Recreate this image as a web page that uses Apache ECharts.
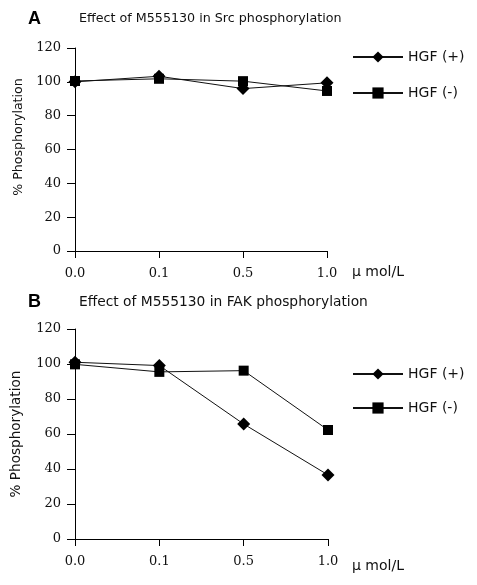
<!DOCTYPE html>
<html>
<head>
<meta charset="utf-8">
<script src="https://cdn.jsdelivr.net/npm/echarts@6/dist/echarts.min.js"></script>
<style>html,body{margin:0;padding:0;background:#fff;}#c{width:477px;height:585px;}</style>
</head>
<body>
<div id="c"></div>
<script>
var categories = ['0.0', '0.1', '0.5', '1.0'];
var srcHgfPlus = [100, 103.3, 96, 99.4];
var srcHgfMinus = [100.5, 101.8, 100.4, 94.6];
var fakHgfPlus = [101, 99.1, 65.7, 36.6];
var fakHgfMinus = [99.8, 95.5, 96.2, 62.3];
var yTicks = {min: 0, max: 120, interval: 20};

var tickFont = {fontFamily: 'DejaVu Serif', fontSize: 13, color: '#111'};
var sansFont = 'DejaVu Sans';

function xAxis(gi) {
  return {
    type: 'category', gridIndex: gi, data: categories, boundaryGap: false,
    axisLine: {lineStyle: {color: '#000', width: 1}},
    axisTick: {show: true, inside: false, length: 7, alignWithLabel: true, lineStyle: {color: '#000'}},
    axisLabel: Object.assign({margin: 16}, tickFont),
    splitLine: {show: false}
  };
}
function yAxis(gi) {
  return {
    type: 'value', gridIndex: gi, min: yTicks.min, max: yTicks.max, interval: yTicks.interval,
    axisLine: {show: true, lineStyle: {color: '#000', width: 1}},
    axisTick: {show: true, length: 8, lineStyle: {color: '#000'}},
    axisLabel: Object.assign({margin: 14}, tickFont),
    splitLine: {show: false}
  };
}
function series(name, data, gi, sym, size) {
  return {
    name: name, type: 'line', xAxisIndex: gi, yAxisIndex: gi, data: data,
    symbol: sym, symbolSize: size, showSymbol: true,
    lineStyle: {color: '#111', width: 1},
    itemStyle: {color: '#000'},
    emphasis: {disabled: true},
    animation: false
  };
}
var legendCommon = {
  orient: 'vertical', itemWidth: 50, itemHeight: 14,
  textStyle: {fontFamily: sansFont, fontSize: 14, color: '#111'},
  data: ['HGF (+)', 'HGF (-)'], selectedMode: false
};

var chart = echarts.init(document.getElementById('c'), null, {renderer: 'canvas'});
chart.setOption({
  backgroundColor: '#fff',
  animation: false,
  grid: [
    {left: 75, top: 48, width: 252, height: 203},
    {left: 75, top: 329, width: 253, height: 210}
  ],
  xAxis: [xAxis(0), xAxis(1)],
  yAxis: [yAxis(0), yAxis(1)],
  legend: [
    Object.assign({left: 347, top: 45, itemGap: 22}, legendCommon),
    Object.assign({left: 347, top: 362, itemGap: 20}, legendCommon)
  ],
  series: [
    series('HGF (+)', srcHgfPlus, 0, 'diamond', 13),
    series('HGF (-)', srcHgfMinus, 0, 'rect', 10),
    series('HGF (+)', fakHgfPlus, 1, 'diamond', 13),
    series('HGF (-)', fakHgfMinus, 1, 'rect', 10)
  ],
  graphic: [
    {type: 'text', left: 28, top: 10, style: {text: 'A', font: 'bold 18px "Liberation Sans"', fill: '#000'}},
    {type: 'text', left: 79, top: 12, style: {text: 'Effect of M555130 in Src phosphorylation', font: '12.7px "DejaVu Sans"', fill: '#111'}},
    {type: 'text', x: 19, y: 137, rotation: Math.PI / 2, style: {text: '% Phosphorylation', font: '12.6px "DejaVu Sans"', fill: '#111', align: 'center', verticalAlign: 'middle'}},
    {type: 'text', left: 352, top: 265, style: {text: '\u03bc mol/L', font: '14px "DejaVu Sans"', fill: '#111'}},
    {type: 'text', left: 28, top: 293, style: {text: 'B', font: 'bold 18px "Liberation Sans"', fill: '#000'}},
    {type: 'text', left: 79, top: 295, style: {text: 'Effect of M555130 in FAK phosphorylation', font: '13.8px "DejaVu Sans"', fill: '#111'}},
    {type: 'text', x: 16, y: 434, rotation: Math.PI / 2, style: {text: '% Phosphorylation', font: '13.6px "DejaVu Sans"', fill: '#111', align: 'center', verticalAlign: 'middle'}},
    {type: 'text', left: 352, top: 559, style: {text: '\u03bc mol/L', font: '14px "DejaVu Sans"', fill: '#111'}}
  ]
});
</script>
</body>
</html>
